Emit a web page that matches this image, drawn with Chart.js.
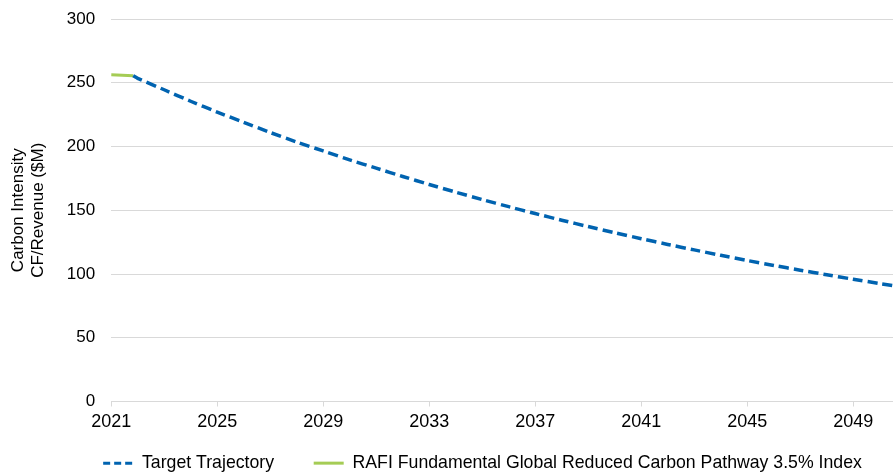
<!DOCTYPE html>
<html>
<head>
<meta charset="utf-8">
<script src="https://cdn.jsdelivr.net/npm/chart.js@4.4.1/dist/chart.umd.min.js"></script>
<style>
  html, body { margin: 0; padding: 0; background: #fff; }
  #wrap { width: 893px; height: 474px; }
</style>
</head>
<body>
<div id="wrap"><canvas id="chart"></canvas></div>
<script>
// values
const trajectoryYears = [2021.83, 2022, 2023, 2024, 2025, 2026, 2027, 2028, 2029, 2030,
  2031, 2032, 2033, 2034, 2035, 2036, 2037, 2038, 2039, 2040,
  2041, 2042, 2043, 2044, 2045, 2046, 2047, 2048, 2049, 2050, 2051];
const trajectoryValues = [255.5, 253.5, 244.5, 235.5, 227, 219, 211, 203.5, 196.5, 189.5,
  183, 176.5, 170.2, 164.2, 158.4, 152.8, 147.4, 142.2, 137.2, 132.4,
  127.7, 123.2, 118.9, 114.7, 110.6, 106.7, 103, 99.4, 95.9, 92.5, 89.2];
const indexYears = [2021, 2021.42, 2021.83];
const indexValues = [256.3, 255.9, 255.5];
const xTickYears = [2021, 2025, 2029, 2033, 2037, 2041, 2045, 2049];
const seriesNames = ["Target Trajectory", "RAFI Fundamental Global Reduced Carbon Pathway 3.5% Index"];
const yTitle = ["Carbon Intensity", "CF/Revenue ($M)"];

const toPoints = (xs, ys) => xs.map((x, i) => ({ x: x, y: ys[i] }));
const family = "'Liberation Sans', Arial, sans-serif";

// move the legend to where the reference has it
const legendShift = {
  id: "legendShift",
  afterLayout(chart) {
    const lg = chart.legend;
    lg.left += 36; lg.right += 36;
    lg.top += 8; lg.bottom += 8;
  }
};

Chart.defaults.color = "#000";

new Chart(document.getElementById("chart"), {
  type: "line",
  data: {
    datasets: [
      {
        label: seriesNames[0],
        data: toPoints(trajectoryYears, trajectoryValues),
        borderColor: "#0063b0",
        backgroundColor: "#0063b0",
        borderWidth: 3.5,
        borderDash: [10, 5],
        pointRadius: 0,
        tension: 0.3,
      },
      {
        label: seriesNames[1],
        data: toPoints(indexYears, indexValues),
        borderColor: "#a5cc55",
        backgroundColor: "#a5cc55",
        borderWidth: 3,
        pointRadius: 0,
        tension: 0.3,
      },
    ],
  },
  options: {
    responsive: true,
    maintainAspectRatio: false,
    animation: false,
    layout: { padding: { top: 19, right: 0, bottom: 0, left: 0 } },
    plugins: {
      tooltip: { enabled: false },
      legend: {
        position: "bottom",
        labels: {
          font: { family: family, size: 17.7 },
          usePointStyle: true,
          pointStyle: "line",
          pointStyleWidth: 30,
          boxWidth: 30,
          padding: 8.2,
          generateLabels(chart) {
            const items = Chart.defaults.plugins.legend.labels.generateLabels(chart);
            items.forEach((item, i) => {
              const ds = chart.data.datasets[i];
              item.lineDash = ds.borderDash ? [7, 4] : [];
              item.lineWidth = 3;
              item.strokeStyle = ds.borderColor;
            });
            items[0].text += "\u2002\u2002\u2002 ";
            return items;
          },
        },
      },
    },
    scales: {
      x: {
        type: "linear",
        min: 2021,
        max: 2050.5,
        afterBuildTicks(scale) {
          scale.ticks = xTickYears.map((v) => ({ value: v }));
        },
        ticks: {
          font: { family: family, size: 18 },
          padding: 5,
          maxRotation: 0,
          callback: (v) => String(v),
        },
        grid: {
          drawOnChartArea: false,
          drawTicks: true,
          tickLength: 5,
          color: "#d9d9d9",
        },
        border: { color: "#d9d9d9" },
      },
      y: {
        min: 0,
        max: 300,
        ticks: { stepSize: 50, font: { family: family, size: 17 }, padding: 0 },
        grid: { color: "#d9d9d9", drawTicks: true, tickLength: 16, tickColor: "transparent" },
        border: { display: false },
        title: {
          display: true,
          text: yTitle,
          font: { family: family, size: 17 },
          padding: { top: 8, bottom: 18 },
        },
      },
    },
  },
  plugins: [legendShift],
});
</script>
</body>
</html>
